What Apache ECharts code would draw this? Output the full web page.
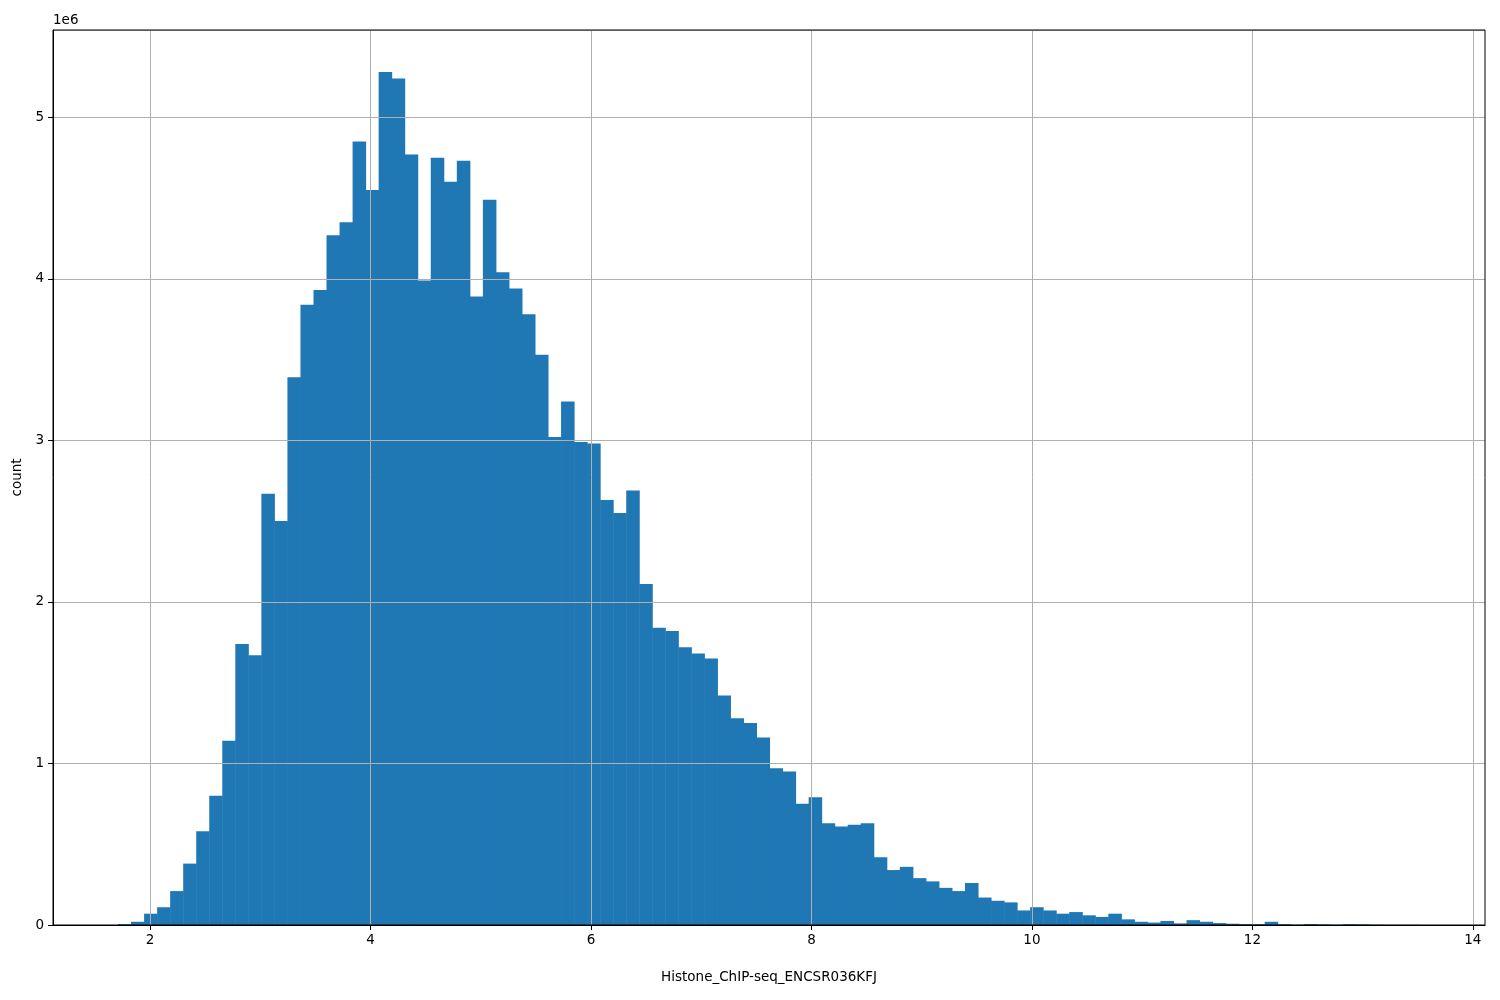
<!DOCTYPE html>
<html>
<head>
<meta charset="utf-8">
<script src="https://cdn.jsdelivr.net/npm/echarts@6/dist/echarts.min.js"></script>
<style>html,body{margin:0;padding:0;background:#fff}#chart{width:1500px;height:1000px}</style>
</head>
<body>
<div id="chart"></div>
<script>
// histogram: 100 bins starting at binStart, counts in millions
const binStart = 1.71;
const binWidth = 0.1182;
const counts = [
  0.005, 0.02, 0.07, 0.11, 0.21, 0.38, 0.58, 0.80, 1.14, 1.74,
  1.67, 2.67, 2.50, 3.39, 3.84, 3.93, 4.27, 4.35, 4.85, 4.55,
  5.28, 5.24, 4.77, 3.99, 4.75, 4.60, 4.73, 3.89, 4.49, 4.04,
  3.94, 3.78, 3.53, 3.02, 3.24, 2.99, 2.98, 2.63, 2.55, 2.69,
  2.11, 1.84, 1.82, 1.72, 1.68, 1.65, 1.42, 1.28, 1.25, 1.16,
  0.97, 0.95, 0.75, 0.79, 0.63, 0.61, 0.62, 0.63, 0.42, 0.34,
  0.36, 0.29, 0.27, 0.23, 0.21, 0.26, 0.17, 0.15, 0.14, 0.09,
  0.11, 0.09, 0.07, 0.08, 0.06, 0.05, 0.07, 0.035, 0.02, 0.015,
  0.025, 0.01, 0.03, 0.02, 0.012, 0.008, 0.006, 0.005, 0.02, 0.005,
  0.002, 0.006, 0.004, 0.002, 0.005, 0.004, 0.002, 0.001, 0.001, 0.001
];
const xTicks = [2, 4, 6, 8, 10, 12, 14];

const bars = counts.map((c, i) => [binStart + i * binWidth, binStart + (i + 1) * binWidth, c * 1e6]);

const chart = echarts.init(document.getElementById('chart'));
const axisFont = { fontFamily: 'DejaVu Sans', fontSize: 13.5, color: '#000' };
chart.setOption({
  animation: false,
  grid: { left: 53, right: 15, top: 30, bottom: 75, outerBoundsMode: 'none', containLabel: false },
  xAxis: {
    type: 'value', min: 1.12, max: 14.11, interval: 2, z: 5,
    name: 'Histone_ChIP-seq_ENCSR036KFJ', nameLocation: 'middle', nameGap: 45,
    nameTextStyle: axisFont,
    axisLabel: Object.assign({ margin: 8, customValues: xTicks }, axisFont),
    axisTick: { customValues: xTicks, length: 5, lineStyle: { color: '#000' } },
    axisLine: { onZero: false, lineStyle: { color: '#000' } },
    splitLine: { show: true, lineStyle: { color: '#b0b0b0' } }
  },
  yAxis: {
    type: 'value', min: 0, max: 5.54e6, interval: 1e6, z: 5,
    name: 'count', nameLocation: 'middle', nameGap: 27, nameRotate: 90,
    nameTextStyle: axisFont,
    axisLabel: Object.assign({ formatter: v => String(v / 1e6), margin: 9, showMaxLabel: false }, axisFont),
    axisTick: { show: true, length: 5, lineStyle: { color: '#000' } },
    axisLine: { show: true, lineStyle: { color: '#000' } },
    splitLine: { show: true, lineStyle: { color: '#b0b0b0' } }
  },
  graphic: [
    { type: 'text', left: 53, top: 13, style: { text: '1e6', font: '13.5px DejaVu Sans', fill: '#000' } },
    { type: 'rect', shape: { x: 53, y: 30, width: 1432, height: 895 }, style: { fill: 'none', stroke: '#000', lineWidth: 1 }, z: 10 }
  ],
  series: [{
    type: 'custom',
    z: 1,
    data: bars,
    renderItem: (params, api) => {
      const p0 = api.coord([api.value(0), api.value(2)]);
      const p1 = api.coord([api.value(1), 0]);
      return {
        type: 'rect',
        shape: { x: p0[0], y: p0[1], width: p1[0] - p0[0] + 0.5, height: p1[1] - p0[1] },
        style: { fill: '#1f77b4' }
      };
    }
  }]
});
</script>
</body>
</html>
